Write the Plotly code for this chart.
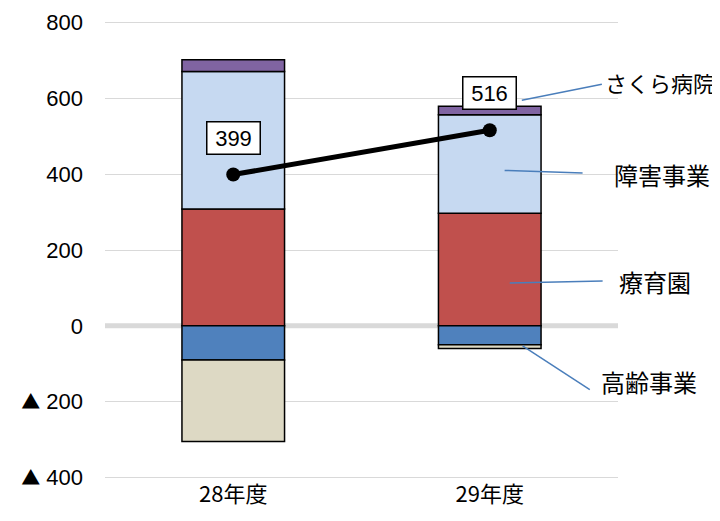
import plotly.graph_objects as go

categories = ["28年度", "29年度"]
ryoikuen = [308, 297]        # 療育園
shogai = [363, 260]          # 障害事業
sakura = [31, 22]            # さくら病院
koreii = [-90, -50]          # 高齢事業
other_neg = [-215, -10]      # その他(負)
total = [399, 516]
tick_vals = [800, 600, 400, 200, 0, -200, -400]
tri = '<span style="font-family:Noto Sans CJK JP;font-size:19px">▲</span>'
tick_text = ["800", "600", "400", "200", "0", tri + " 200", tri + " 400"]

line_style = dict(color="black", width=1.5)
fig = go.Figure()
fig.add_bar(x=categories, y=ryoikuen, name="療育園", marker=dict(color="#C0504D", line=line_style))
fig.add_bar(x=categories, y=shogai, name="障害事業", marker=dict(color="#C6D9F1", line=line_style))
fig.add_bar(x=categories, y=sakura, name="さくら病院", marker=dict(color="#8064A2", line=line_style))
fig.add_bar(x=categories, y=koreii, name="高齢事業", marker=dict(color="#4F81BD", line=line_style))
fig.add_bar(x=categories, y=other_neg, name="その他", marker=dict(color="#DDD9C4", line=line_style))
fig.add_scatter(x=categories, y=total, mode="lines+markers",
                line=dict(color="black", width=5),
                marker=dict(color="black", size=14), showlegend=False)

for c, v in zip(categories, total):
    fig.add_annotation(x=c, y=v, text=str(v), showarrow=False, yshift=37,
                       bgcolor="white", bordercolor="black", borderwidth=1.5,
                       borderpad=3, width=46,
                       font=dict(size=22, color="black", family="Liberation Sans"))

# (label, font size, line x0, y0, x1, y1, text pixel-x in page, text y)
labels = [
    ("さくら病院", 22, 1.125, 595, 1.437, 637, 660, 642),
    ("障害事業", 24, 1.058, 410, 1.362, 403, 662, 400),
    ("療育園", 24, 1.078, 113, 1.44, 118, 655, 118),
    ("高齢事業", 24, 1.128, -53, 1.39, -168, 649, -147),
]
for t, fs, x0, y0, x1, y1, tx, ty in labels:
    fig.add_shape(type="line", x0=x0, y0=y0, x1=x1, y1=y1, xref="x", yref="y",
                  line=dict(color="#4A7EBB", width=1.5))
    fig.add_annotation(x=(tx - 105) / 513, y=ty, xref="paper", yref="y", text=t,
                       showarrow=False, xanchor="center",
                       font=dict(size=fs, color="black", family="Noto Sans CJK JP"))

fig.add_shape(type="line", x0=0, x1=1, xref="paper", y0=0, y1=0, yref="y",
              line=dict(color="#D9D9D9", width=5), layer="below")

# page body has an 8px margin; compensate so the plot lands where the reference has it
fig.update_layout(
    barmode="relative", bargap=0.6, width=712, height=513,
    margin=dict(l=97, r=102, t=13, b=42),
    plot_bgcolor="white", paper_bgcolor="white", showlegend=False,
    font=dict(family="Liberation Sans", color="black"),
)
fig.update_xaxes(range=[-0.5, 1.5], showgrid=False, showline=False, ticks="",
                 automargin=False,
                 tickfont=dict(size=22, family="Noto Sans CJK JP", color="black"))
fig.update_yaxes(range=[-404, 804], tickvals=tick_vals, ticktext=tick_text,
                 showgrid=True, gridcolor="#D9D9D9", gridwidth=1.2, zeroline=False,
                 automargin=False,
                 ticklabelstandoff=21, tickfont=dict(size=22, color="black"))
fig.write_html("out.html")
